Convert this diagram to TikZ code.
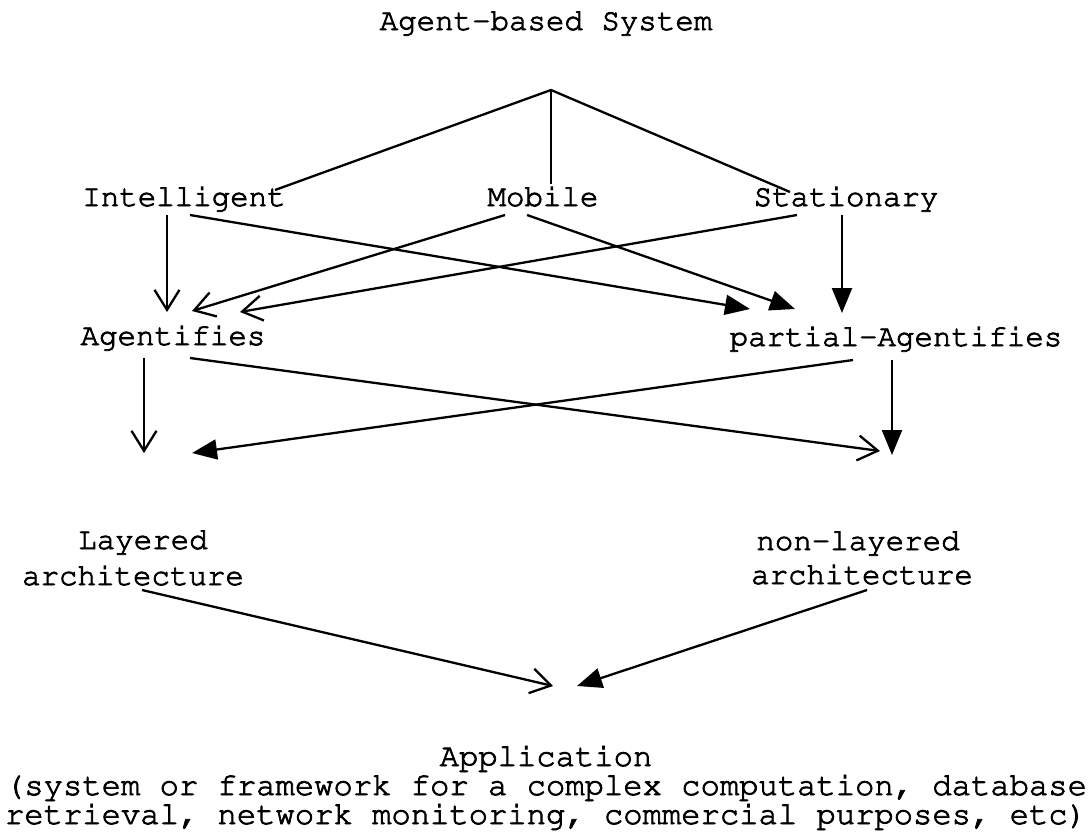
\documentclass[tikz,border=0pt]{standalone}
\usepackage[T1]{fontenc}
\usetikzlibrary{arrows.meta}
\newcommand{\heavytext}{\special{pdf:literal direct 2 Tr 0.8 w}}
\tikzset{
  lbl/.style={inner sep=0pt, anchor=base, font=\fontfamily{pcr}\fontsize{30.8}{36}\selectfont\heavytext},
  lblb/.style={inner sep=0pt, anchor=base, font=\fontfamily{pcr}\fontsize{32.2}{28}\selectfont\heavytext},
  conn/.style={line width=2.3pt},
  openarr/.style={conn, -{Straight Barb[length=20pt,width=25pt,line width=2.3pt]}},
  fillarr/.style={conn, -{Triangle[length=25pt,width=20pt]}},
}
\begin{document}
\begin{tikzpicture}[x=1pt,y=-1pt]
\useasboundingbox (0,0) rectangle (1092,838);
% text nodes
\node[lbl] (sys) at (546,30) {Agent-based System};
\coordinate (apex) at (551,90);
\node[lbl] (intel) at (184,206) {Intelligent};
\node[lbl] (mob) at (543,206) {Mobile};
\node[lbl] (stat) at (846,206) {Stationary};
\node[lbl] (ag) at (173,345) {Agentifies};
\node[lbl] (pag) at (896,346) {partial-Agentifies};
\node[lbl] (lay1) at (143,549) {Layered};
\node[lbl] (lay2) at (133,585) {architecture};
\node[lbl] (nlay1) at (858,550) {non-layered};
\node[lbl] (nlay2) at (862,584) {architecture};
\node[lblb] (app1) at (546,766) {Application};
\node[lblb] (app2) at (546,795) {(system or framework for a complex computation, database};
\node[lblb] (app3) at (546,824) {retrieval, network monitoring, commercial purposes, etc)};
% connector ends
\coordinate (t-intel) at (275,190);
\coordinate (t-mob) at (551,184);
\coordinate (t-stat) at (790,192);
\coordinate (intel-o1) at (167,215);
\coordinate (intel-o2) at (190,215);
\coordinate (mob-o1) at (505,215);
\coordinate (mob-o2) at (527,215);
\coordinate (stat-o1) at (797,215);
\coordinate (stat-o2) at (842,215);
\coordinate (ag-o1) at (144,358);
\coordinate (ag-o2) at (190,358);
\coordinate (pag-o1) at (853,360);
\coordinate (pag-o2) at (892,360);
\coordinate (lay-o) at (142,590);
\coordinate (nlay-o) at (867,590);
\coordinate (ag-in1) at (167,312);
\coordinate (ag-in2) at (192,311);
\coordinate (ag-in3) at (240,312);
\coordinate (pag-in1) at (750,309);
\coordinate (pag-in2) at (795,309);
\coordinate (pag-in3) at (842,313);
\coordinate (lay-in1) at (144,453);
\coordinate (lay-in2) at (192,453);
\coordinate (nlay-in1) at (880,451);
\coordinate (nlay-in2) at (892,455);
\coordinate (app-in1) at (553,686);
\coordinate (app-in2) at (577,686);
% apex lines
\draw[conn] (t-intel) -- (apex) -- (t-stat);
\draw[conn] (apex) -- (t-mob);
% row 1
\draw[openarr,line width=1.8pt] (intel-o1) -- (ag-in1);
\draw[fillarr] (intel-o2) -- (pag-in1);
\draw[openarr] (mob-o1) -- (ag-in2);
\draw[fillarr] (mob-o2) -- (pag-in2);
\draw[openarr] (stat-o1) -- (ag-in3);
\draw[fillarr] (stat-o2) -- (pag-in3);
% row 2
\draw[openarr,line width=1.4pt] (ag-o1) -- (lay-in1);
\draw[openarr] (ag-o2) -- (nlay-in1);
\draw[fillarr] (pag-o1) -- (lay-in2);
\draw[fillarr] (pag-o2) -- (nlay-in2);
% to application
\draw[openarr] (lay-o) -- (app-in1);
\draw[fillarr] (nlay-o) -- (app-in2);
\end{tikzpicture}
\end{document}
